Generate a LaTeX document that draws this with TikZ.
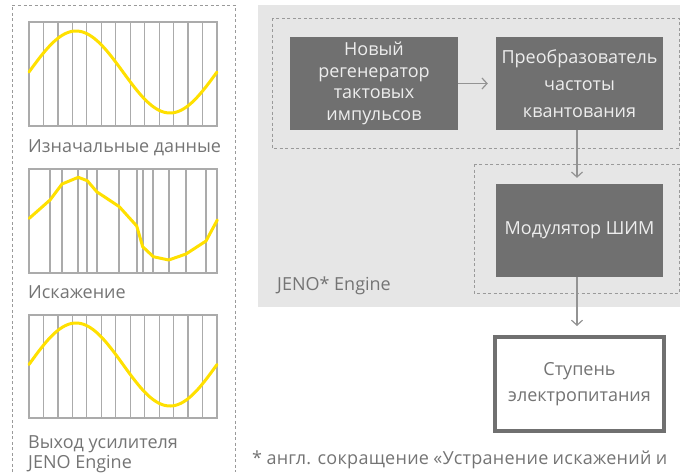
\documentclass[tikz,border=0pt]{standalone}
\usepackage{fontspec}
\setmainfont{Open Sans}
\usetikzlibrary{arrows.meta}
\definecolor{labelgray}{HTML}{747474}
\definecolor{boxgray}{HTML}{707070}
\definecolor{panelgray}{HTML}{E6E6E6}
\definecolor{gridgray}{HTML}{ABABAB}
\definecolor{wavey}{HTML}{FFE000}
\definecolor{dashgray}{HTML}{9A9A9A}
\definecolor{boxtext}{HTML}{EDEDED}
\tikzset{
  lbl/.style={font=\fontsize{18}{20}\selectfont, text=labelgray, inner sep=0pt},
  grid/.style={draw=gridgray, line width=1.3pt},
  wave/.style={draw=wavey, line width=3pt, line join=round, line cap=round},
  dashbox/.style={draw=dashgray, line width=1pt, dash pattern=on 3pt off 2.5pt},
  darkbox/.style={fill=boxgray, draw=none, text=boxtext, align=center,
    font=\fontsize{18}{21.5}\selectfont, inner sep=0pt},
  powerbox/.style={fill=white, draw=boxgray, line width=4pt, text=labelgray, align=center,
    font=\fontsize{18}{26}\selectfont, inner sep=0pt},
  conn/.style={draw=gray!85, line width=1.3pt, -{Straight Barb[length=5pt,width=11pt,line width=1.2pt]}}
}
\begin{document}
\begin{tikzpicture}[x=1pt,y=-1pt]
\useasboundingbox (0,0) rectangle (680,472);
% left dashed panel
\draw[dashbox] (12,472) -- (12,5) -- (235,5) -- (235,472);
% graph 1
\foreach \i in {0,...,13} \draw[grid] ({29+\i*188/13},22) -- ({29+\i*188/13},126);
\draw[grid] (29,22) rectangle (217,126);
\draw[wave] plot[domain=0:188, samples=90, smooth] ({29+\x},{72-41*sin(\x/188*360)});
\node[lbl, anchor=base west] (l1) at (28,152) {Изначальные данные};
% graph 2
\draw[grid] (29,169) rectangle (217,273);
\foreach \xx in {50,62,78,87,97,119,137,143,153,169,186,206} \draw[grid] (\xx,169) -- (\xx,273);
\draw[wave] (29.3,218.3) -- (50,200) -- (62,184) -- (78.3,177.3) -- (87.3,180.7) -- (96.7,191.7) -- (119.3,206.7) -- (136.7,226) -- (142.7,246.7) -- (153.3,256.7) -- (168.7,260) -- (186,254) -- (206,241) -- (217.3,220);
\node[lbl, anchor=base west] (l2) at (28,298) {Искажение};
% graph 3
\foreach \i in {0,...,13} \draw[grid] ({29+\i*188/13},315) -- ({29+\i*188/13},418);
\draw[grid] (29,315) rectangle (217,418);
\draw[wave] plot[domain=0:188, samples=90, smooth] ({29+\x},{364.5-41.5*sin(\x/188*360)});
\node[lbl, anchor=base west] (l3a) at (28,448) {Выход усилителя};
\node[lbl, anchor=base west] (l3b) at (28,468) {JENO Engine};
% right gray panel
\fill[panelgray] (258,5) rectangle (680,307);
\draw[dashbox] (272,18) rectangle (679,148);
\draw[dashbox] (474,164) rectangle (679,293);
\node[lbl, anchor=base west] (eng) at (277,290) {JENO* Engine};
% boxes
\node[darkbox, minimum width=168pt, minimum height=93pt] (b1) at (374,83.5) {Новый\\регенератор\\тактовых\\импульсов};
\node[darkbox, minimum width=167pt, minimum height=93pt, font=\fontsize{18}{27}\selectfont] (b2) at (579.5,83.5) {Преобразователь\\частоты\\квантования};
\node[darkbox, minimum width=167pt, minimum height=93pt] (b3) at (579.5,230.5) {Модулятор ШИМ};
\node[powerbox, minimum width=169pt, minimum height=94pt] (b4) at (579.5,384) {Ступень\\электропитания};
% connectors
\draw[conn, shorten >=8pt] (b1.east) -- (b2.west);
\draw[conn, shorten >=6pt] ([xshift=-2.5pt]b2.south) -- ([xshift=-2.5pt]b3.north);
\draw[conn, shorten >=9pt] ([xshift=-2.5pt]b3.south) -- ([xshift=-2.5pt]b4.north);
% footnote
\node[lbl, anchor=base west] (fn) at (252,464) {\addfontfeature{LetterSpace=1.5}\makebox[415pt][s]{* англ. сокращение «Устранение искажений и}};
\end{tikzpicture}
\end{document}
